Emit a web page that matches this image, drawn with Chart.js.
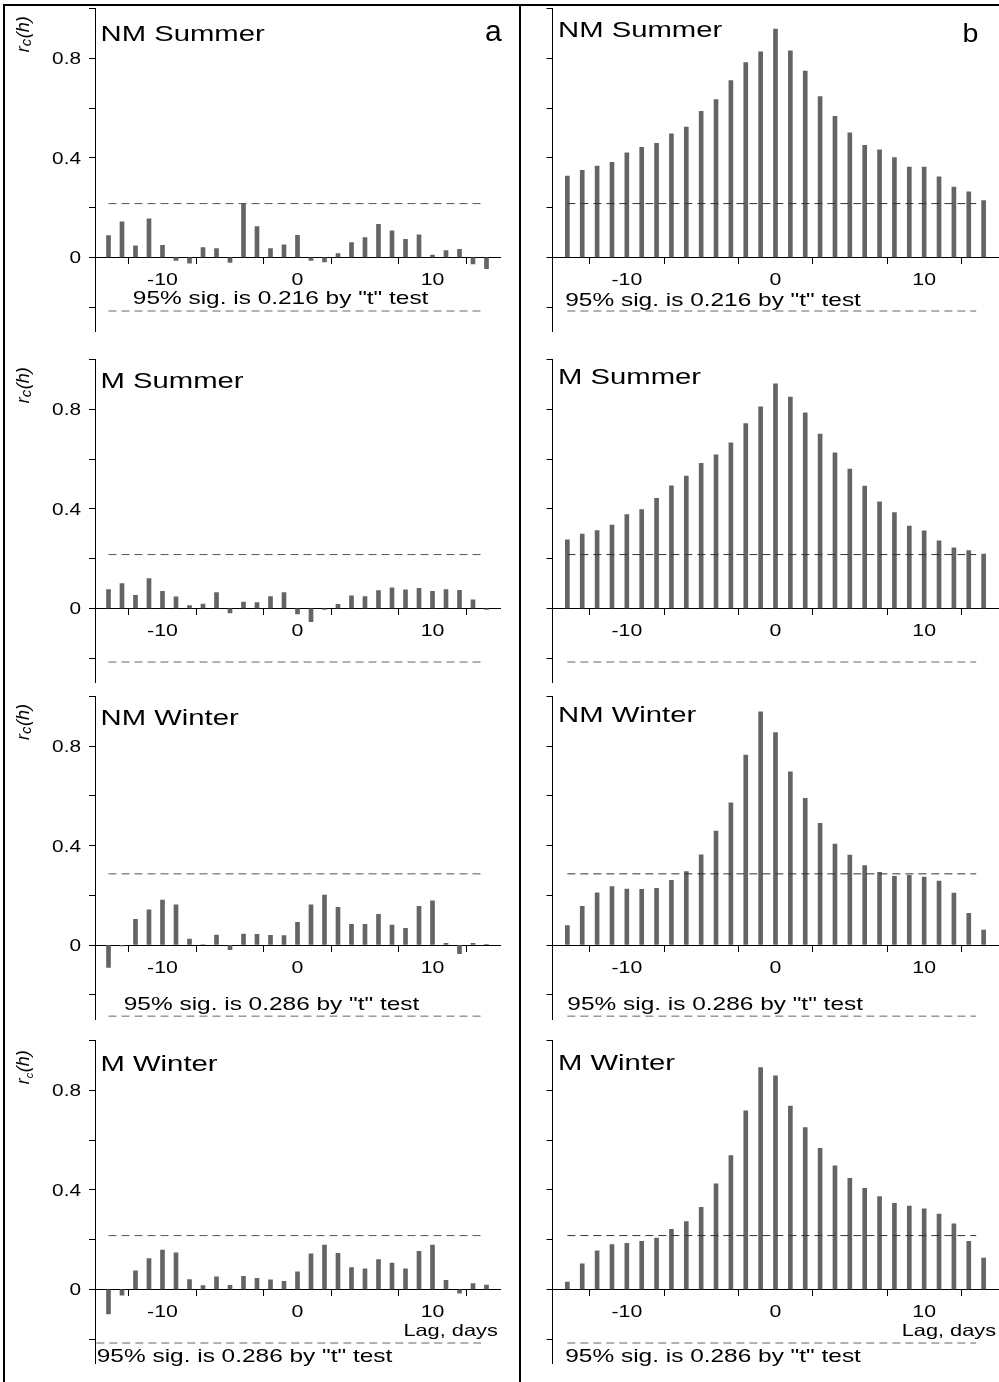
<!DOCTYPE html>
<html>
<head>
<meta charset="utf-8">
<script src="https://cdn.jsdelivr.net/npm/chart.js@4.4.1/dist/chart.umd.min.js"></script>
<style>
  html, body { margin: 0; padding: 0; background: #fff; }
  #fig { position: relative; width: 999px; height: 1382px; overflow: hidden; background: #fff; }
  #fig canvas { position: absolute; }
  .rule { position: absolute; background: #000; z-index: 2; }
</style>
</head>
<body>
<div id="fig">
  <div class="rule" style="left:3px;top:4px;width:996px;height:2px"></div>
  <div class="rule" style="left:3px;top:4px;width:2px;height:1378px"></div>
  <div class="rule" style="left:519px;top:4px;width:2px;height:1378px"></div>
</div>
<script>
// lag in days
const lags = [-14, -13, -12, -11, -10, -9, -8, -7, -6, -5, -4, -3, -2, -1, 0,
  1, 2, 3, 4, 5, 6, 7, 8, 9, 10, 11, 12, 13, 14];

// column a
const nmSummerA = [0.087, 0.143, 0.046, 0.155, 0.048, -0.013, -0.024, 0.039, 0.035, -0.021, 0.214, 0.123, 0.035, 0.050, 0.088,
  -0.013, -0.019, 0.015, 0.059, 0.079, 0.133, 0.106, 0.072, 0.090, 0.009, 0.027, 0.032, -0.027, -0.046];
const mSummerA = [0.075, 0.099, 0.052, 0.119, 0.068, 0.046, 0.011, 0.017, 0.063, -0.019, 0.025, 0.023, 0.047, 0.063, -0.023,
  -0.054, -0.005, 0.016, 0.050, 0.047, 0.071, 0.082, 0.074, 0.080, 0.068, 0.075, 0.072, 0.034, -0.004];
const nmWinterA = [-0.090, -0.004, 0.103, 0.141, 0.181, 0.161, 0.024, 0.002, 0.040, -0.019, 0.044, 0.043, 0.039, 0.038, 0.091,
  0.161, 0.201, 0.151, 0.083, 0.083, 0.123, 0.080, 0.067, 0.155, 0.178, 0.007, -0.035, 0.007, 0.003];
const mWinterA = [-0.099, -0.024, 0.074, 0.123, 0.158, 0.147, 0.039, 0.015, 0.050, 0.016, 0.052, 0.044, 0.038, 0.032, 0.070,
  0.143, 0.178, 0.145, 0.087, 0.082, 0.119, 0.105, 0.082, 0.153, 0.178, 0.036, -0.016, 0.023, 0.017];

// column b
const nmSummerB = [0.327, 0.350, 0.367, 0.382, 0.420, 0.442, 0.458, 0.496, 0.523, 0.587, 0.634, 0.710, 0.783, 0.826, 0.917,
  0.830, 0.749, 0.646, 0.567, 0.500, 0.450, 0.432, 0.401, 0.363, 0.363, 0.324, 0.282, 0.263, 0.228];
const mSummerB = [0.275, 0.298, 0.312, 0.335, 0.377, 0.397, 0.442, 0.492, 0.532, 0.583, 0.617, 0.665, 0.743, 0.810, 0.902,
  0.849, 0.786, 0.700, 0.625, 0.560, 0.491, 0.428, 0.385, 0.331, 0.311, 0.271, 0.243, 0.232, 0.218];
const nmWinterB = [0.078, 0.155, 0.210, 0.235, 0.225, 0.224, 0.228, 0.260, 0.295, 0.362, 0.458, 0.572, 0.764, 0.937, 0.854,
  0.696, 0.590, 0.489, 0.406, 0.361, 0.319, 0.292, 0.276, 0.280, 0.273, 0.257, 0.209, 0.127, 0.060];
const mWinterB = [0.029, 0.102, 0.155, 0.180, 0.185, 0.193, 0.206, 0.241, 0.272, 0.330, 0.424, 0.538, 0.717, 0.891, 0.858,
  0.737, 0.650, 0.567, 0.496, 0.446, 0.406, 0.373, 0.346, 0.335, 0.323, 0.302, 0.263, 0.193, 0.126];

// dashed significance levels drawn per row, and the notes printed
const sigLevels = [0.216, 0.216, 0.286, 0.216];
const noteSummer = '95% sig. is 0.216 by "t" test';
const noteWinter = '95% sig. is 0.286 by "t" test';

const yTicks = [-0.2, 0, 0.2, 0.4, 0.6, 0.8, 1.0];
const yTickLabels = [0, 0.4, 0.8];
const xTicks = [-10, -5, 0, 5, 10];
const xTickLabels = [-10, 0, 10];

const FONT = '"Liberation Sans", Arial, sans-serif';

// layout of the figure (pixels)
const rows = [
  { top: 0, h: 346, zero: 257.3, titleDy: [32, 28] },
  { top: 346, h: 344, zero: 608.3, titleDy: [28, 24.4] },
  { top: 690, h: 342, zero: 945, titleDy: [28.7, 25.4] },
  { top: 1032, h: 350, zero: 1289.3, titleDy: [30, 29.4] }
];
const cols = [
  { left: 0, w: 519, caL: 95, caR: 500 },
  { left: 519, w: 480, caL: 33.5, caR: 480 }
];
const UNIT = 248.75;

const panels = [
  { row: 0, col: 0, title: 'NM Summer', vals: nmSummerA, letter: 'a', notes: [[noteSummer, -12.2, -0.188, 'left']] },
  { row: 0, col: 1, title: 'NM Summer', vals: nmSummerB, letter: 'b', notes: [[noteSummer, -14.14, -0.196, 'left']] },
  { row: 1, col: 0, title: 'M Summer', vals: mSummerA, notes: [] },
  { row: 1, col: 1, title: 'M Summer', vals: mSummerB, notes: [] },
  { row: 2, col: 0, title: 'NM Winter', vals: nmWinterA, notes: [[noteWinter, -12.87, -0.261, 'left']] },
  { row: 2, col: 1, title: 'NM Winter', vals: nmWinterB, notes: [[noteWinter, -14.0, -0.261, 'left']] },
  { row: 3, col: 0, title: 'M Winter', vals: mWinterA, lowerFrom: -14.9, subSmall: true,
    notes: [['Lag, days', 14.84, -0.188, 'right', 16.5], [noteWinter, -14.87, -0.292, 'left']] },
  { row: 3, col: 1, title: 'M Winter', vals: mWinterB,
    notes: [['Lag, days', 14.84, -0.188, 'right', 16.5], [noteWinter, -14.14, -0.292, 'left']] }
];

// text drawn wider than the font, as in the scanned figure
function sText(ctx, txt, x, y, font, align, sx) {
  ctx.save();
  ctx.font = font;
  ctx.textAlign = 'left';
  ctx.textBaseline = 'alphabetic';
  const w = ctx.measureText(txt).width * sx;
  const x0 = align === 'right' ? x - w : align === 'center' ? x - w / 2 : x;
  ctx.translate(x0, y);
  ctx.scale(sx, 1);
  ctx.fillText(txt, 0, 0);
  ctx.restore();
}

function makeTextPlugin(p) {
  return {
    id: 'panelText',
    afterDraw(chart) {
      const { ctx, chartArea: ca, scales: { x, y } } = chart;
      ctx.save();
      ctx.fillStyle = '#000';
      const y0 = y.getPixelForValue(0);

      sText(ctx, p.title, ca.left + 5.5, ca.top + rows[p.row].titleDy[p.col], '22px ' + FONT, 'left', 1.33);
      if (p.letter === 'a') sText(ctx, 'a', ca.right - 15, ca.top + 32, '30px ' + FONT, 'left', 1.0);
      if (p.letter === 'b') sText(ctx, 'b', ca.right - 36, ca.top + 33, '26px ' + FONT, 'left', 1.1);

      if (p.col === 0) {
        yTickLabels.forEach(v => {
          sText(ctx, String(v), ca.left - 14, y.getPixelForValue(v) + 6, '16px ' + FONT, 'right', 1.3);
        });
        // rotated y title r_c(h)
        ctx.save();
        ctx.translate(ca.left - 66, y0 - 205);
        ctx.rotate(-Math.PI / 2);
        ctx.textAlign = 'left';
        ctx.textBaseline = 'alphabetic';
        ctx.font = 'italic 18px ' + FONT;
        ctx.fillText('r', 0, 0);
        let cx = ctx.measureText('r').width;
        ctx.font = (p.subSmall ? 'italic 11px ' : 'italic 15px ') + FONT;
        ctx.fillText('c', cx, p.subSmall ? 4 : 1.5);
        cx += ctx.measureText('c').width + 0.5;
        ctx.font = 'italic 18px ' + FONT;
        ctx.fillText('(h)', cx, 0);
        ctx.restore();
      }

      xTickLabels.forEach(v => {
        sText(ctx, String(v), x.getPixelForValue(v), y0 + 28, '16px ' + FONT, 'center', 1.33);
      });

      p.notes.forEach(n => {
        const fs = n[4] || 18.5;
        sText(ctx, n[0], x.getPixelForValue(n[1]), y.getPixelForValue(n[2]), fs + 'px ' + FONT, n[3], 1.32);
      });
      ctx.restore();
    }
  };
}

const fig = document.getElementById('fig');

panels.forEach(p => {
  const r = rows[p.row], c = cols[p.col];
  const cv = document.createElement('canvas');
  cv.width = c.w; cv.height = r.h;
  cv.style.left = c.left + 'px';
  cv.style.top = r.top + 'px';
  cv.style.width = c.w + 'px';
  cv.style.height = r.h + 'px';
  fig.appendChild(cv);

  const target = {
    left: c.caL, right: c.caR,
    top: r.zero - UNIT * 1.0 - r.top,
    bottom: r.zero + UNIT * 0.3 - r.top
  };
  const sig = sigLevels[p.row];
  const right = p.col === 0 ? 13.6 : 13.5;
  const upperColor = p.col === 0 ? '#555' : '#333';

  const cfg = {
    data: {
      datasets: [
        {
          type: 'line', order: 0,
          data: [{ x: -14, y: sig }, { x: right, y: sig }],
          borderColor: upperColor, borderWidth: 1, borderDash: [8, 5],
          pointRadius: 0, fill: false
        },
        {
          type: 'line', order: 0,
          data: [{ x: p.lowerFrom !== undefined ? p.lowerFrom : -14, y: -sig }, { x: right, y: -sig }],
          borderColor: '#666', borderWidth: 1, borderDash: [8, 5],
          pointRadius: 0, fill: false
        },
        {
          type: 'bar', order: 1,
          data: lags.map((l, i) => ({ x: l, y: p.vals[i] })),
          backgroundColor: '#646464',
          borderWidth: 0,
          barThickness: 4
        }
      ]
    },
    options: {
      responsive: false,
      animation: false,
      devicePixelRatio: 1,
      layout: { padding: { left: target.left - 6, right: c.w - target.right, top: target.top, bottom: r.h - target.bottom - 6 } },
      plugins: { legend: { display: false }, tooltip: { enabled: false } },
      scales: {
        x: {
          type: 'linear', min: -15, max: 15, offset: false,
          position: { y: 0 },
          afterBuildTicks: s => { s.ticks = xTicks.map(v => ({ value: v })); },
          ticks: { display: false },
          grid: { display: true, drawOnChartArea: false, drawTicks: true, tickLength: 6, color: '#000', lineWidth: 1 },
          border: { display: true, color: '#000', width: 1 }
        },
        y: {
          type: 'linear', min: -0.3, max: 1.0, position: 'left',
          afterBuildTicks: s => { s.ticks = yTicks.map(v => ({ value: v })); },
          ticks: { display: false },
          grid: { display: true, drawOnChartArea: false, drawTicks: true, tickLength: 6, color: '#000', lineWidth: 1 },
          border: { display: true, color: '#000', width: 1 }
        }
      }
    },
    plugins: [makeTextPlugin(p)]
  };

  const chart = new Chart(cv, cfg);
  // nudge padding so the plot area lands where it sits in the figure
  for (let k = 0; k < 3; k++) {
    const ca = chart.chartArea;
    const pad = Object.assign({}, chart.config.options.layout.padding);
    pad.left += target.left - ca.left;
    pad.top += target.top - ca.top;
    pad.right += ca.right - target.right;
    pad.bottom += ca.bottom - target.bottom;
    chart.config.options.layout.padding = pad;
    chart.update('none');
  }
});
</script>
</body>
</html>
